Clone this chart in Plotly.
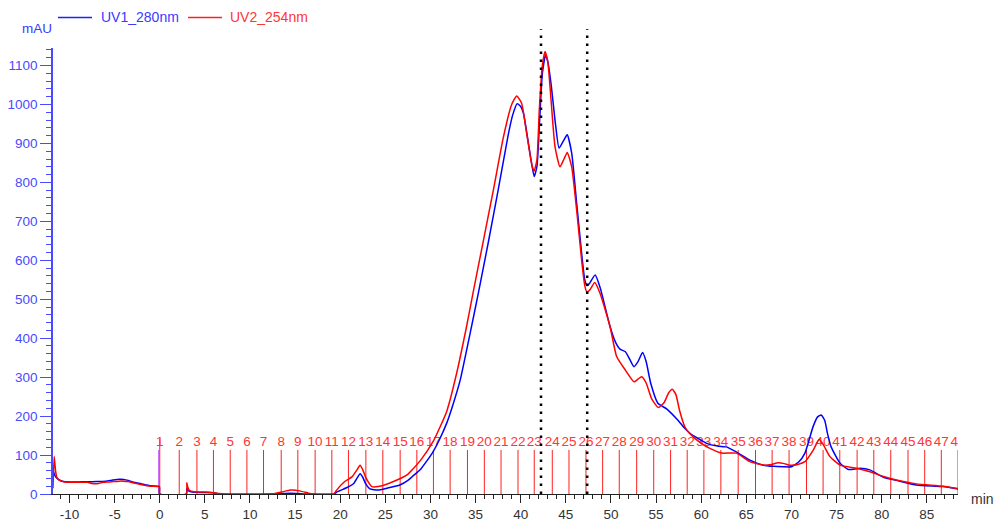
import plotly.graph_objects as go

# ---------------- data ----------------
uv1_x = [-11.83, -11.7, -11.5, -11.2, -10.8, -10.0, -9.0, -8.0, -7.0, -6.0, -5.2, -4.5, -4.0, -3.5, -3.0,
         -2.0, -1.0, -0.05, 0.0, 2.95, 3.0, 3.2, 3.6, 5.0, 6.0, 6.6, 12.5, 14.5, 16.5, 19.4, 19.6,
         20.7, 21.5, 21.9, 22.2, 22.5, 22.8, 23.3, 24.2, 25.2, 26.6, 27.5, 28.0, 28.85, 29.6, 30.3,
         31.0, 31.8, 32.5, 33.3, 34.4, 35.3, 36.4, 37.5, 38.6, 39.1, 39.6, 40.0, 40.3, 40.85, 41.2,
         41.5, 41.8, 42.1, 42.4, 42.75, 43.0, 43.4, 43.8, 44.25, 44.7, 45.15, 45.65, 46.2, 46.75,
         47.1, 47.35, 47.6, 48.25, 48.8, 49.9, 50.5, 51.0, 51.6, 52.1, 52.55, 53.0, 53.5, 53.9,
         54.4, 55.2, 56.2, 57.4, 58.2, 58.75, 60.6, 61.8, 62.8, 63.3, 64.1, 65.4, 66.9, 68.0, 69.1,
         70.0, 70.8, 71.5, 72.4, 72.9, 73.3, 73.7, 74.0, 74.4, 75.4, 76.3, 77.0, 77.6, 78.7, 80.2,
         82.0, 83.85, 86.8, 88.46]
uv1_y = [62, 52, 43, 37, 33, 31, 31, 31.5, 32, 33, 36, 38, 37.5, 35, 31,
         26, 21, 19, 0, 0, 14, 8, 5, 4, 3, 0, 0, 2, 0, 0, 5,
         16, 27, 42, 52, 43, 27, 13, 10, 15, 23, 35, 45, 62, 85, 109,
         140, 182, 230, 293, 413, 515, 645, 780, 920, 972, 1002, 995, 978, 901, 850,
         815, 841, 960, 1080, 1127, 1110, 1046, 960, 888, 905, 922, 875, 747, 618,
         550, 535, 540, 562, 530, 430, 390, 372, 365, 345, 327, 340, 363, 340,
         285, 233, 218, 190, 168, 156, 130, 123, 121, 115, 105, 87, 74, 71, 70,
         70, 82, 105, 173, 198, 203, 188, 155, 121, 79, 63, 64, 66, 62, 43,
         33, 23, 19, 13]

uv2_x = [-11.83, -11.7, -11.55, -11.4, -11.1, -10.5, -9.5, -8.0, -7.5, -6.8, -6.3, -5.5, -4.5, -4.0,
         -3.5, -3.0, -2.0, -1.0, -0.05, 0.0, 2.95, 3.0, 3.1, 3.3, 3.8, 5.0, 6.0, 6.6, 7.2, 12.5,
         13.5, 14.5, 15.5, 16.5, 17.0, 19.3, 19.6, 20.5, 21.3, 21.8, 22.2, 22.5, 22.8, 23.5, 24.2,
         25.9, 27.4, 28.85, 30.3, 31.06, 31.8, 32.9, 34.0, 34.75, 35.86, 36.97, 38.07, 39.0,
         39.56, 40.1, 40.66, 41.2, 41.47, 41.8, 42.06, 42.4, 42.7, 43.0, 43.25, 43.8, 44.35, 44.8,
         45.16, 45.65, 46.2, 46.75, 47.1, 47.35, 47.7, 48.2, 48.8, 49.9, 50.63, 51.6, 52.55, 53.0,
         53.4, 53.9, 54.5, 55.24, 55.9, 56.4, 56.8, 57.2, 57.6, 58.2, 58.75, 60.0, 60.97, 62.26,
         63.9, 65.4, 67.0, 67.8, 68.5, 69.2, 69.8, 70.7, 71.5, 72.4, 73.07, 73.5, 74.27, 75.4,
         77.2, 78.7, 80.2, 82.0, 83.85, 86.8, 88.46]
uv2_y = [15, 96, 60, 42, 35, 31, 30, 30, 27, 27, 30, 31, 33, 33,
         32, 29, 24, 20, 18, 0, 0, 29, 18, 9, 6, 5, 3, 1, 0, 0,
         5, 10, 8, 2, 0, 0, 10, 32, 44, 60, 74, 62, 44, 19, 19,
         32, 49, 85, 135, 172, 212, 310, 430, 520, 650, 780, 915, 1000,
         1022, 1003, 926, 849, 828, 858, 986, 1100, 1136, 1110, 1046, 892, 840, 860,
         877, 840, 729, 601, 535, 518, 525, 543, 515, 430, 353, 318, 288, 295,
         301, 285, 245, 222, 235, 260, 269, 255, 215, 172, 155, 130, 117, 105,
         105, 83, 74, 76, 80, 78, 74, 76, 83, 112, 140, 128, 96, 74,
         66, 57, 45, 34, 26, 20, 14]

fraction_pos = [0.0, 2.16, 4.12, 5.95, 7.81, 9.66, 11.5, 13.46, 15.3, 17.22, 19.07, 20.91, 22.84,
                24.72, 26.64, 28.49, 30.33, 32.18, 34.1, 35.97, 37.82, 39.7, 41.5, 43.5, 45.35,
                47.23, 49.08, 50.92, 52.85, 54.74, 56.61, 58.45, 60.3, 62.18, 64.1, 66.02, 67.86,
                69.74, 71.67, 73.51, 75.36, 77.28, 79.13, 81.01, 82.92, 84.77, 86.61, 88.46]
fraction_labels = [str(i) for i in range(1, 49)]
fraction_height = 113
injection_pos = 0.0
marker_pos = [42.25, 47.37]

x_tick_vals = [-10, -5, 0, 5, 10, 15, 20, 25, 30, 35, 40, 45, 50, 55, 60, 65, 70, 75, 80, 85]
x_tick_text = ["-10", "-5", "0", "5", "10", "15", "20", "25", "30", "35", "40", "45", "50",
               "55", "60", "65", "70", "75", "80", "85"]
y_tick_vals = [0, 100, 200, 300, 400, 500, 600, 700, 800, 900, 1000, 1100]
y_tick_text = [str(v) for v in y_tick_vals]

BLUE = "#0000ff"
RED = "#ff0000"
AXBLUE = "#4a4aff"
FONT = "Liberation Sans, Arial, sans-serif"

fig = go.Figure()

# fraction lines
fx, fy = [], []
for i, p in enumerate(fraction_pos):
    fx += [p, p, None]
    fy += [0, 141 if i == 0 else fraction_height, None]
fig.add_trace(go.Scatter(x=fx, y=fy, mode="lines", line=dict(color="#ff2020", width=1),
                         hoverinfo="skip", showlegend=False, cliponaxis=True))
# injection mark
fig.add_trace(go.Scatter(x=[injection_pos - 0.1, injection_pos - 0.1], y=[0, fraction_height],
                         mode="lines", line=dict(color="#c040ff", width=1.2),
                         hoverinfo="skip", showlegend=False))
# fraction labels
fig.add_trace(go.Scatter(x=fraction_pos, y=[131] * len(fraction_pos), text=fraction_labels,
                         mode="text", textposition="middle center",
                         textfont=dict(family=FONT, size=13.5, color="#ff3535"),
                         hoverinfo="skip", showlegend=False, cliponaxis=True))

fig.add_trace(go.Scatter(x=uv1_x, y=uv1_y, mode="lines", name="UV1_280nm",
                         line=dict(color=BLUE, width=1.5, shape="spline", smoothing=0.5),
                         showlegend=False))
fig.add_trace(go.Scatter(x=uv2_x, y=uv2_y, mode="lines", name="UV2_254nm",
                         line=dict(color=RED, width=1.5, shape="spline", smoothing=0.5),
                         showlegend=False))

# dotted markers
for m in marker_pos:
    fig.add_shape(type="line", xref="x", yref="paper", x0=m, x1=m, y0=0, y1=1.042,
                  line=dict(color="black", width=2.5, dash="2.5px,5.5px"))

L, R, T, B = 53, 38, 48, 29
PW, PH = 996 - L - R, 523 - T - B

def px(x):
    return (x - L) / PW

def py(y):
    return (523 - B - y) / PH

fig.add_shape(type="line", xref="paper", yref="paper", x0=px(58), x1=px(92), y0=py(17.5), y1=py(17.5),
              line=dict(color="#2020ff", width=1.5))
fig.add_shape(type="line", xref="paper", yref="paper", x0=px(188), x1=px(222), y0=py(17.5), y1=py(17.5),
              line=dict(color="#ff2020", width=1.5))
fig.add_annotation(xref="paper", yref="paper", x=px(99), y=py(17.5), text="UV1_280nm", showarrow=False,
                   xanchor="left", yanchor="middle", font=dict(family=FONT, size=14, color="#3a3aff"))
fig.add_annotation(xref="paper", yref="paper", x=px(228), y=py(17.5), text="UV2_254nm", showarrow=False,
                   xanchor="left", yanchor="middle", font=dict(family=FONT, size=14, color="#ff3535"))
fig.add_annotation(xref="paper", yref="paper", x=px(37), y=py(28), text="mAU", showarrow=False,
                   xanchor="center", yanchor="middle", font=dict(family=FONT, size=13.5, color="#3a3aff"))
fig.add_annotation(xref="paper", yref="paper", x=px(969), y=py(499), text="min", showarrow=False,
                   xanchor="left", yanchor="middle", font=dict(family=FONT, size=14, color="#333333"))

fig.update_layout(
    width=996, height=523,
    margin=dict(l=L, r=R, t=T, b=B, autoexpand=False),
    paper_bgcolor="white", plot_bgcolor="white",
    showlegend=False,
    xaxis=dict(range=[-11.83, 88.46], showgrid=False, zeroline=False, automargin=False,
               showline=True, linecolor="#222222", linewidth=1,
               tickmode="array", tickvals=x_tick_vals, ticktext=x_tick_text,
               ticks="outside", ticklen=8, tickcolor="#222222", tickwidth=1,
               tickfont=dict(family=FONT, size=13.5, color="#333333"),
               minor=dict(dtick=1, tick0=0, ticks="outside", ticklen=4, tickcolor="#222222", showgrid=False)),
    yaxis=dict(range=[0, 1145], showgrid=False, zeroline=False, automargin=False,
               showline=True, linecolor=AXBLUE, linewidth=1.5,
               tickmode="array", tickvals=y_tick_vals, ticktext=y_tick_text,
               ticks="outside", ticklen=11, tickcolor=AXBLUE, tickwidth=1,
               tickfont=dict(family=FONT, size=13.5, color=AXBLUE),
               minor=dict(dtick=20, tick0=0, ticks="outside", ticklen=5, tickcolor=AXBLUE, showgrid=False)),
)

fig.write_html("out.html", config={"displayModeBar": False},
               post_script="document.body.style.margin='0';document.body.style.padding='0';"
                           "document.body.style.overflow='hidden';")
